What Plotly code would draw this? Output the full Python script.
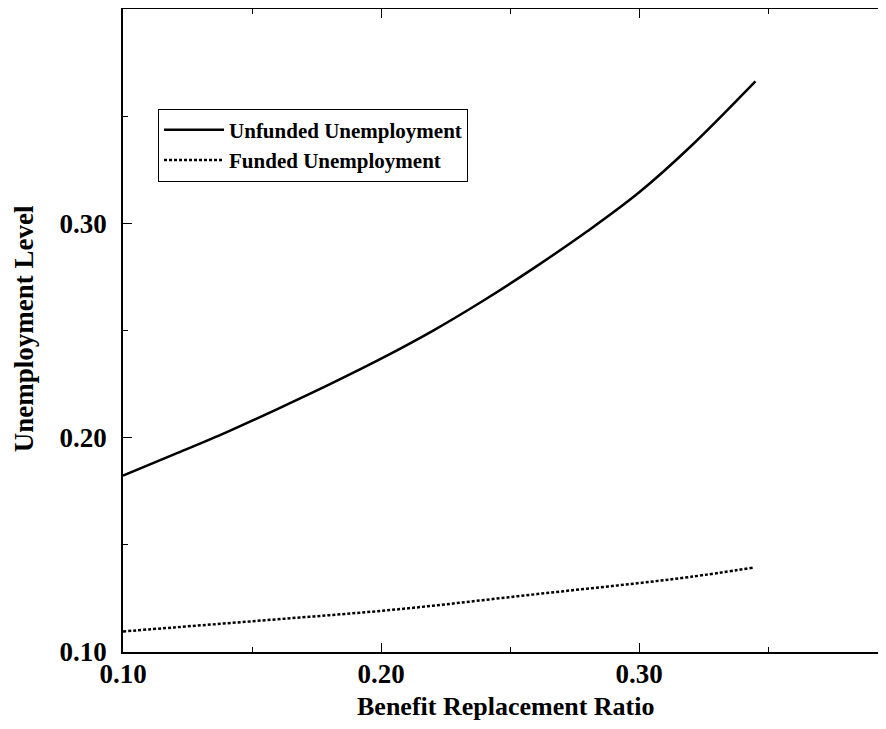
import plotly.graph_objects as go

# Data
ratio_unfunded = [0.10, 0.12, 0.14, 0.16, 0.18, 0.20, 0.22, 0.24, 0.26, 0.28, 0.30, 0.32, 0.345]
unfunded = [0.1824, 0.1924, 0.2026, 0.2136, 0.2250, 0.2370, 0.2500, 0.2644, 0.2800, 0.2966, 0.3147, 0.3362, 0.3665]

ratio_funded = [0.10, 0.12, 0.14, 0.16, 0.18, 0.20, 0.22, 0.24, 0.26, 0.28, 0.30, 0.32, 0.344]
funded = [0.1096, 0.1115, 0.1134, 0.1153, 0.1172, 0.1192, 0.1216, 0.1243, 0.1270, 0.1296, 0.1322, 0.1351, 0.1394]

x_ticks = [0.10, 0.20, 0.30]
x_labels = ["0.10", "0.20", "0.30"]
y_ticks = [0.10, 0.20, 0.30]
y_labels = ["0.10", "0.20", "0.30"]

x_title = "Benefit Replacement Ratio"
y_title = "Unemployment Level"

FONT = "Liberation Serif, Times New Roman, serif"
SIZE = 27

fig = go.Figure()
fig.add_trace(go.Scatter(x=ratio_unfunded, y=unfunded, mode="lines", name="Unfunded Unemployment",
                         line=dict(color="black", width=2.5, shape="spline")))
fig.add_trace(go.Scatter(x=ratio_funded, y=funded, mode="lines", name="Funded Unemployment",
                         line=dict(color="black", width=2.5, dash="3px,2px", shape="spline")))

# the page adds an 8px body margin, so the figure is sized/offset to compensate
fig.update_layout(
    width=870, height=713,
    margin=dict(l=115, r=0, t=1, b=69),
    paper_bgcolor="white", plot_bgcolor="white",
    font=dict(family=FONT, color="black", size=SIZE, weight="bold"),
    showlegend=True,
    legend=dict(x=0.0464, y=0.845, xanchor="left", yanchor="top",
                bordercolor="black", borderwidth=1, bgcolor="white",
                itemwidth=60,
                font=dict(family=FONT, size=21, weight="bold", color="black"),
                tracegroupgap=0),
    annotations=[
        dict(text=x_title, xref="paper", yref="paper", x=0.507, y=-0.0848,
             xanchor="center", yanchor="middle", showarrow=False,
             font=dict(family=FONT, size=26, weight="bold", color="black")),
        dict(text=y_title, xref="paper", yref="paper", x=-0.131, y=0.502,
             xanchor="center", yanchor="middle", showarrow=False, textangle=-90,
             font=dict(family=FONT, size=SIZE, weight="bold", color="black")),
    ],
)
fig.update_xaxes(range=[0.10, 0.3925], tickvals=x_ticks, ticktext=x_labels,
                 ticks="inside", ticklen=9, tickwidth=1, tickcolor="black",
                 minor=dict(dtick=0.05, tick0=0.10, ticks="inside", ticklen=5, tickwidth=1, tickcolor="black"),
                 showline=True, linecolor="black", linewidth=1.5, mirror="ticks",
                 showgrid=False, zeroline=False, ticklabelstandoff=-3,
                 tickfont=dict(family=FONT, size=SIZE, weight="bold"))
fig.update_yaxes(range=[0.10, 0.4003], tickvals=y_ticks, ticktext=y_labels,
                 ticks="inside", ticklen=9, tickwidth=1, tickcolor="black",
                 minor=dict(dtick=0.05, tick0=0.10, ticks="inside", ticklen=5, tickwidth=1, tickcolor="black"),
                 showline=True, linecolor="black", linewidth=1.5, mirror=False,
                 showgrid=False, zeroline=False, ticklabelstandoff=9,
                 tickfont=dict(family=FONT, size=SIZE, weight="bold"))

fig.write_html("out.html")
